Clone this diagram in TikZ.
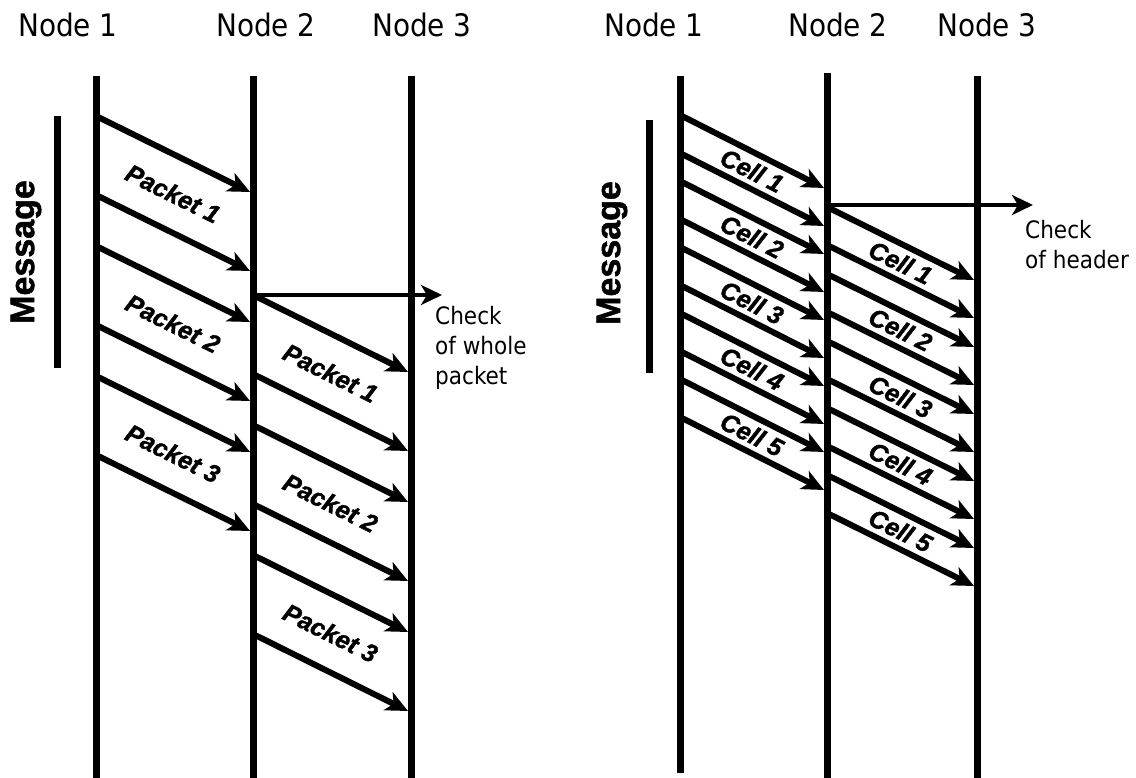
\documentclass[tikz,border=0pt]{standalone}
\usepackage{fontspec}
\setmainfont{Liberation Sans}
\newfontfamily\hdfont{DejaVu Sans Condensed}
\newfontfamily\lblfont[BoldFeatures={FakeBold=1.5},BoldItalicFeatures={FakeBold=1.5}]{Liberation Sans}
\usetikzlibrary{arrows.meta,calc}

\begin{document}
\begin{tikzpicture}[x=1pt,y=-1pt,
  life/.style={line width=7pt},
  msg/.style={line width=6pt,-{Stealth[length=22pt,width=20pt,inset=6pt]}},
  chk/.style={line width=4pt,-{Stealth[length=21pt,width=20pt,inset=6pt]}},
  hd/.style={font=\hdfont\fontsize{31}{31}\selectfont,anchor=base,inner sep=0pt},
  note/.style={font=\hdfont\fontsize{24}{30}\selectfont,align=left,anchor=north west,inner sep=0pt},
  lbl/.style={font=\lblfont\bfseries\itshape\fontsize{25}{25}\selectfont,inner sep=0pt},
  mtxt/.style={font=\lblfont\bfseries\fontsize{34}{34}\selectfont,rotate=90,inner sep=0pt}]
  \useasboundingbox (0,0) rectangle (1136,778);
  % packet switching
  \node[hd] (h1) at (68,37) {Node 1};
  \node[hd] (h2) at (266,37) {Node 2};
  \node[hd] (h3) at (422,37) {Node 3};
  \coordinate (t1) at (96,76);  \coordinate (e1) at (96,778);
  \coordinate (t2) at (253,76); \coordinate (e2) at (253,778);
  \coordinate (t3) at (411,76); \coordinate (e3) at (411,778);
  \draw[life] (t1) -- (e1);
  \draw[life] (t2) -- (e2);
  \draw[life] (t3) -- (e3);
  \node[mtxt] (msg1) at (26,252) {Message};
  \coordinate (m1t) at (57,116); \coordinate (m1b) at (57,368);
  \draw[life] (m1t) -- (m1b);
  \foreach \k/\ya/\yc in {1/116/295, 2/246/425, 3/376/555}{
    \coordinate (pa\k) at (96,\ya);     \coordinate (qa\k) at (250,\ya+76);
    \coordinate (pb\k) at (96,\ya+79);  \coordinate (qb\k) at (250,\ya+155);
    \draw[msg] (pa\k) -- (qa\k);
    \draw[msg] (pb\k) -- (qb\k);
    \node[lbl,rotate=-26.3] (pl\k) at ($(pa\k)!0.5!(qb\k)$) {Packet \k};
    \coordinate (ra\k) at (253,\yc);    \coordinate (sa\k) at (408,\yc+77);
    \coordinate (rb\k) at (253,\yc+79); \coordinate (sb\k) at (408,\yc+156);
    \draw[msg] (ra\k) -- (sa\k);
    \draw[msg] (rb\k) -- (sb\k);
    \node[lbl,rotate=-26.4] (ql\k) at ($(ra\k)!0.5!(sb\k)$) {Packet \k};
  }
  \coordinate (c1) at (442,295);
  \draw[chk] (ra1) -- (c1);
  \node[note] (ck1) at (435,306) {Check\\of whole\\packet};
  % cell switching
  \node[hd] (h4) at (654,37) {Node 1};
  \node[hd] (h5) at (838,37) {Node 2};
  \node[hd] (h6) at (987,37) {Node 3};
  \coordinate (t4) at (680,76);  \coordinate (e4) at (680,773);
  \coordinate (t5) at (827,73);  \coordinate (e5) at (827,778);
  \coordinate (t6) at (977,76);  \coordinate (e6) at (977,778);
  \draw[life] (t4) -- (e4);
  \draw[life] (t5) -- (e5);
  \draw[life] (t6) -- (e6);
  \node[mtxt] (msg2) at (612,253) {Message};
  \coordinate (m2t) at (649,120); \coordinate (m2b) at (649,373);
  \draw[life] (m2t) -- (m2b);
  \foreach \k/\ya/\yc in {1/115/207, 2/181/274, 3/247/341, 4/313/408, 5/379/475}{
    \coordinate (ua\k) at (680,\ya);     \coordinate (va\k) at (824,\ya+73);
    \coordinate (ub\k) at (680,\ya+38);  \coordinate (vb\k) at (824,\ya+111);
    \draw[msg] (ua\k) -- (va\k);
    \draw[msg] (ub\k) -- (vb\k);
    \node[lbl,rotate=-26.9] (ul\k) at ($(ua\k)!0.5!(vb\k)$) {Cell \k};
    \coordinate (wa\k) at (827,\yc);     \coordinate (za\k) at (974,\yc+73);
    \coordinate (wb\k) at (827,\yc+38);  \coordinate (zb\k) at (974,\yc+111);
    \draw[msg] (wa\k) -- (za\k);
    \draw[msg] (wb\k) -- (zb\k);
    \node[lbl,rotate=-26.4] (wl\k) at ($(wa\k)!0.5!(zb\k)$) {Cell \k};
  }
  \coordinate (c0) at (827,205);
  \coordinate (c2) at (1033,205);
  \draw[chk] (c0) -- (c2);
  \node[note] (ck2) at (1025,220) {Check\\of header};
\end{tikzpicture}
\end{document}
